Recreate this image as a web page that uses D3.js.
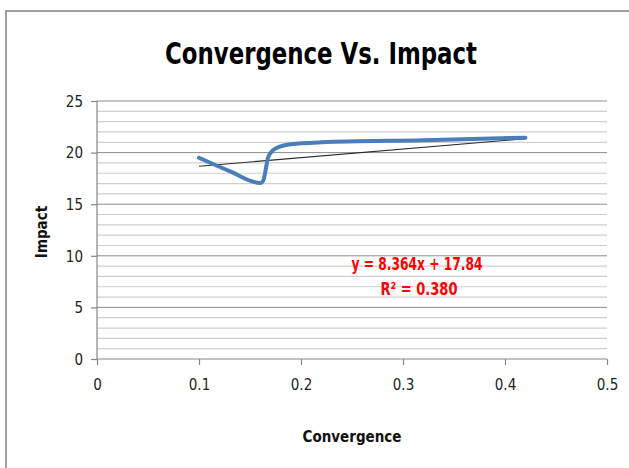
<!DOCTYPE html>
<html>
<head>
<meta charset="utf-8">
<script src="https://cdn.jsdelivr.net/npm/d3@7"></script>
<style>
  html, body { margin: 0; padding: 0; background: #fff; }
  svg { display: block; }
  text { font-family: "Liberation Sans Narrow", "DejaVu Sans Condensed", "Open Sans", sans-serif; }
</style>
</head>
<body>
<svg id="chart" width="629" height="468"></svg>
<script>
// Convergence (x) vs. Impact (y) readings
const convergence = [0.10, 0.13, 0.16, 0.163, 0.168, 0.175, 0.19, 0.22, 0.32, 0.42];
const impact      = [19.5, 18.2, 17.05, 17.3, 19.6, 20.4, 20.8, 21.0, 21.2, 21.45];

// Linear trend fitted to the series
const trendSlope = 8.364;
const trendIntercept = 17.84;
const trendR2 = 0.380;

const xTicks = [0, 0.1, 0.2, 0.3, 0.4, 0.5];
const yTicks = [0, 5, 10, 15, 20, 25];
const yMinor = d3.range(0, 26, 1);

const svg = d3.select("#chart");

// Outer chart frame
svg.append("rect")
  .attr("x", 6).attr("y", 11)
  .attr("width", 640).attr("height", 480)
  .attr("fill", "#fff")
  .attr("stroke", "#878787").attr("stroke-width", 1.6);

const plotL = 97, plotR = 607, plotT = 101, plotB = 359;
const x = d3.scaleLinear().domain([0, 0.5]).range([plotL, plotR]);
const y = d3.scaleLinear().domain([0, 25]).range([plotB, plotT]);

// Minor gridlines
svg.append("g").selectAll("line")
  .data(yMinor.filter(v => v % 5 !== 0))
  .join("line")
  .attr("x1", plotL).attr("x2", plotR)
  .attr("y1", d => y(d)).attr("y2", d => y(d))
  .attr("stroke", "#cfcfcf").attr("stroke-width", 1.2);

// Major gridlines
svg.append("g").selectAll("line")
  .data(yTicks.filter(v => v !== 0))
  .join("line")
  .attr("x1", plotL).attr("x2", plotR)
  .attr("y1", d => y(d)).attr("y2", d => y(d))
  .attr("stroke", "#8c8c8c").attr("stroke-width", 1);

// Axes
const xAxis = svg.append("g")
  .attr("transform", `translate(0,${plotB})`)
  .call(d3.axisBottom(x).tickValues(xTicks).tickSize(6).tickPadding(14)
    .tickFormat(d => d === 0 ? "0" : d3.format(".1f")(d)));
const yAxis = svg.append("g")
  .attr("transform", `translate(${plotL},0)`)
  .call(d3.axisLeft(y).tickValues(yTicks).tickSize(6).tickPadding(8));

[xAxis, yAxis].forEach(g => {
  g.select(".domain").attr("stroke", "#868686").attr("stroke-width", 1.2);
  g.selectAll(".tick line").attr("stroke", "#868686").attr("stroke-width", 1.2);
  g.selectAll(".tick text")
    .attr("fill", "#222")
    .style("font-size", "15px");
});
xAxis.select(".domain").attr("d", `M${plotL},0H${plotR}`);
yAxis.select(".domain").attr("d", `M0,${plotT}V${plotB}`);
yAxis.selectAll(".tick text").attr("dy", "0.35em");

// Trend line
const xs = d3.extent(convergence);
svg.append("line")
  .attr("x1", x(xs[0])).attr("y1", y(trendSlope * xs[0] + trendIntercept))
  .attr("x2", x(xs[1])).attr("y2", y(trendSlope * xs[1] + trendIntercept))
  .attr("stroke", "#2b2b2b").attr("stroke-width", 1.1);

// Data series
const pts = convergence.map((c, i) => [c, impact[i]]);
svg.append("path")
  .datum(pts)
  .attr("fill", "none")
  .attr("stroke", "#4a7ebb")
  .attr("stroke-width", 4)
  .attr("stroke-linecap", "round")
  .attr("stroke-linejoin", "round")
  .attr("d", d3.line().x(d => x(d[0])).y(d => y(d[1])).curve(d3.curveMonotoneX));

// Title
svg.append("text")
  .attr("x", 321).attr("y", 64)
  .attr("text-anchor", "middle")
  .attr("font-weight", "bold")
  .attr("font-size", 30)
  .attr("textLength", 312)
  .attr("lengthAdjust", "spacingAndGlyphs")
  .attr("fill", "#000")
  .text("Convergence Vs. Impact");

// Axis titles
svg.append("text")
  .attr("x", 352).attr("y", 442)
  .attr("text-anchor", "middle")
  .attr("font-weight", "bold").attr("font-size", 15)
  .attr("fill", "#111")
  .text("Convergence");

svg.append("text")
  .attr("transform", "translate(47,232) rotate(-90)")
  .attr("text-anchor", "middle")
  .attr("font-weight", "bold").attr("font-size", 15)
  .attr("fill", "#111")
  .text("Impact");

// Trend equation
svg.append("text")
  .attr("x", 417).attr("y", 270)
  .attr("text-anchor", "middle")
  .attr("font-weight", "bold").attr("font-size", 17)
  .attr("textLength", 131)
  .attr("lengthAdjust", "spacingAndGlyphs")
  .attr("fill", "#ff0000")
  .text(`y = ${trendSlope}x + ${trendIntercept}`);

svg.append("text")
  .attr("x", 419).attr("y", 295)
  .attr("text-anchor", "middle")
  .attr("font-weight", "bold").attr("font-size", 17)
  .attr("textLength", 77)
  .attr("lengthAdjust", "spacingAndGlyphs")
  .attr("fill", "#ff0000")
  .text(`R² = ${trendR2.toFixed(3)}`);
</script>
</body>
</html>
